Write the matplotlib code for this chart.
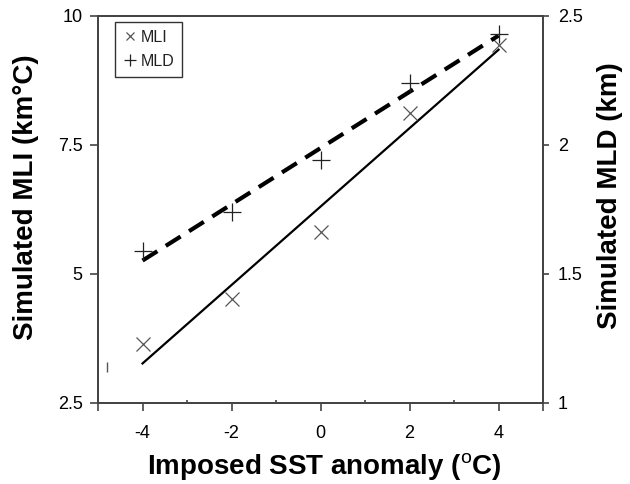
import numpy as np
import matplotlib
matplotlib.use('Agg')
import matplotlib.pyplot as plt

plt.rcParams['font.family'] = ['Liberation Sans', 'DejaVu Sans']
plt.rcParams['mathtext.fontset'] = 'custom'
plt.rcParams['mathtext.rm'] = 'Liberation Sans'
plt.rcParams['mathtext.bf'] = 'Liberation Sans:bold'

# imposed SST anomaly (oC)
sst = [-4, -2, 0, 2, 4]
# simulated mixed layer integral (km oC), left axis
mli = [3.64, 4.52, 5.81, 8.12, 9.44]
# simulated mixed layer depth (km), right axis
mld = [1.59, 1.74, 1.94, 2.24, 2.43]

xticks = [-4, -2, 0, 2, 4]
mli_ticks = [2.5, 5, 7.5, 10]
mli_labels = ['2.5', '5', '7.5', '10']
mld_ticks = [1, 1.5, 2, 2.5]
mld_labels = ['1', '1.5', '2', '2.5']

spine_col = '#444444'
mark_col = '#555555'

fig = plt.figure(figsize=(6.3, 4.84), dpi=100)
ax = fig.add_axes([0.1556, 0.1674, 0.7064, 0.7996])
ax2 = ax.twinx()

# fitted lines
x = np.array(sst, dtype=float)
p1 = np.polyfit(x, mli, 1)
p2 = np.polyfit(x, mld, 1)
xf = np.array([x.min(), x.max()])
ax.plot(xf, np.polyval(p1, xf), color='black', lw=1.6, zorder=2)
ax2.plot(xf, np.polyval(p2, xf), color='black', lw=3.0, ls=(0, (4.2, 2.4)), zorder=2)

h1, = ax.plot(sst, mli, ls='none', marker='x', ms=9.5, mew=0.9, color=mark_col, zorder=3)
h2, = ax2.plot(sst, mld, ls='none', marker='+', ms=13, mew=0.9, color='#222222', zorder=3)

# small stray mark near the left axis
ax.plot([-4.8], [3.2], ls='none', marker='|', ms=7, mew=1.0, color=mark_col)

ax.set_xlim(-5, 5)
ax.set_ylim(2.5, 10)
ax2.set_ylim(1, 2.5)

ax.set_xticks([-5] + xticks + [5])
ax.set_xticklabels([''] + [str(v) for v in xticks] + [''])
ax.set_xticks([-3, -1, 1, 3], minor=True)
ax.set_yticks(mli_ticks)
ax.set_yticklabels(mli_labels)
ax2.set_yticks(mld_ticks)
ax2.set_yticklabels(mld_labels)

for a in (ax, ax2):
    for s in a.spines.values():
        s.set_color(spine_col)
        s.set_linewidth(1.3)
ax.tick_params(axis='both', which='major', direction='out', length=6, width=1.2,
               color=spine_col, labelsize=13)
ax.tick_params(axis='x', which='major', pad=10)
ax.tick_params(axis='y', which='major', pad=5)
ax.tick_params(axis='x', which='minor', direction='in', length=2.5, width=1.2, color=spine_col)
ax2.tick_params(axis='y', which='major', direction='out', length=4.5, width=1.2,
                color=spine_col, labelsize=13, pad=6)

ax.set_xlabel(r'Imposed SST anomaly ($^{\mathrm{o}}$C)', fontsize=20, fontweight='bold', va='center')
ax.xaxis.set_label_coords(0.508, -0.165)
ax.set_ylabel('Simulated MLI (km°C)', fontsize=20, fontweight='bold', va='center', ha='center')
ax.yaxis.set_label_coords(-0.162, 0.532)
ax2.set_ylabel('Simulated MLD (km)', fontsize=20, fontweight='bold', va='center', ha='center')
ax2.yaxis.set_label_coords(1.151, 0.537)

leg = ax.legend([h1, h2], ['MLI', 'MLD'], loc='upper left', bbox_to_anchor=(0.038, 0.9845),
                fontsize=11.5, frameon=True, fancybox=False, handlelength=0.9, markerscale=0.65,
                handletextpad=0.2, borderpad=0.5, labelspacing=0.55, borderaxespad=0.0)
leg.get_frame().set_edgecolor('black')
leg.get_frame().set_linewidth(1.0)
for t in leg.get_texts():
    t.set_color('#222222')

fig.savefig('out.png', dpi=100)
